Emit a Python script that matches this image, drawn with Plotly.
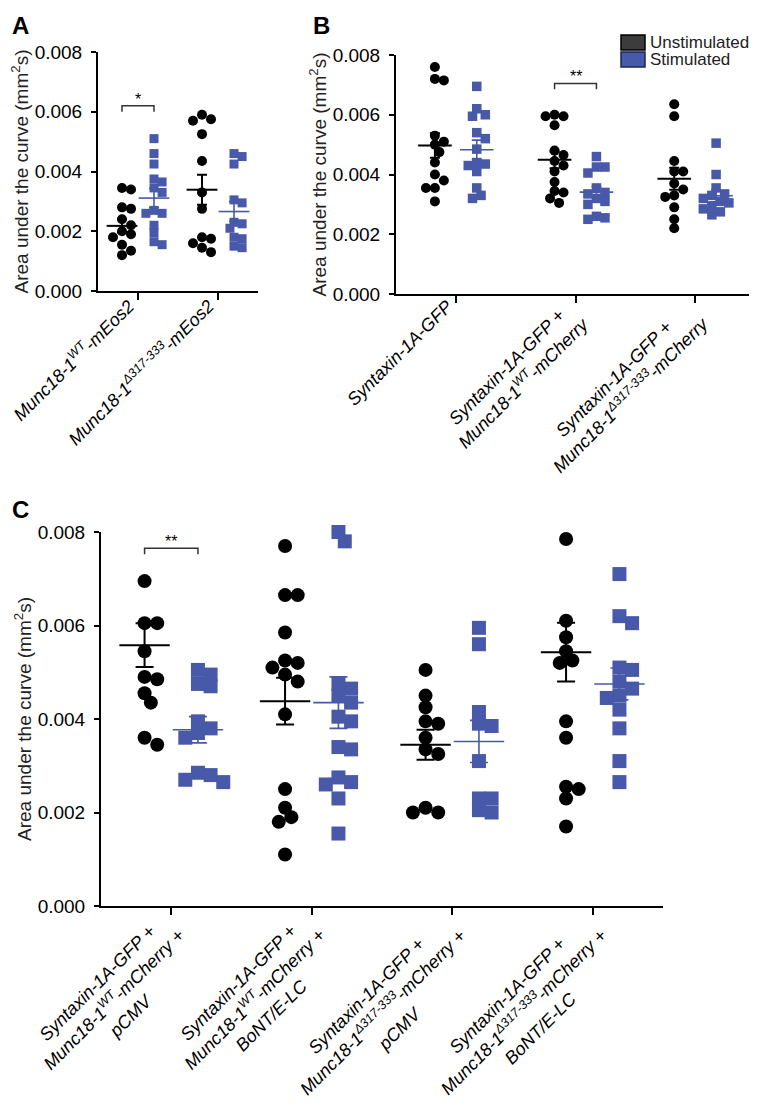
import numpy as np
import plotly.graph_objects as go

FONT = "Arial, 'Liberation Sans', sans-serif"
BLUE = "#4759a8"

# ---------------- data (area values in units of 0.001 mm^2 s) ----------------
a_labels = ["Munc18-1<sup>WT</sup>-mEos2",
            "Munc18-1<sup>Δ317-333</sup>-mEos2"]
a_unstim = [
    [3.45, 3.40, 2.80, 2.75, 2.40, 2.20, 2.00, 1.90, 1.80, 1.55, 1.35, 1.20],
    [5.90, 5.75, 5.70, 5.25, 4.35, 3.30, 2.75, 1.80, 1.75, 1.60, 1.45, 1.30],
]
a_stim = [
    [5.10, 4.60, 4.25, 3.75, 3.65, 3.45, 3.30, 2.70, 2.60, 2.60, 2.20, 1.95, 1.65, 1.55],
    [4.60, 4.50, 4.25, 3.05, 2.95, 2.30, 2.25, 2.10, 1.80, 1.75, 1.50, 1.45],
]
a_unstim_mean = [2.18, 3.39]
a_unstim_sem = [0.22, 0.50]
a_stim_mean = [3.11, 2.66]
a_stim_sem = [0.32, 0.33]

b_labels = ["Syntaxin-1A-GFP",
            "Syntaxin-1A-GFP +<br>Munc18-1<sup>WT</sup>-mCherry",
            "Syntaxin-1A-GFP +<br>Munc18-1<sup>Δ317-333</sup>-mCherry"]
b_unstim = [
    [7.60, 7.20, 7.15, 5.30, 5.10, 5.00, 4.75, 4.40, 4.00, 3.80, 3.55, 3.55, 3.10],
    [6.00, 5.95, 5.95, 5.65, 4.80, 4.65, 4.45, 4.30, 4.10, 3.75, 3.45, 3.40, 3.20, 3.05],
    [6.35, 5.95, 4.45, 4.10, 4.10, 3.70, 3.50, 3.30, 3.25, 2.90, 2.50, 2.20],
]
b_stim = [
    [6.95, 6.20, 6.00, 5.95, 5.40, 5.20, 4.85, 4.40, 4.35, 4.30, 4.10, 3.55, 3.30, 3.20],
    [4.60, 4.25, 4.25, 4.05, 3.55, 3.40, 3.35, 3.20, 3.10, 3.00, 2.60, 2.55, 2.50],
    [5.05, 4.00, 3.55, 3.35, 3.30, 3.20, 3.10, 3.05, 2.95, 2.85, 2.75, 2.65],
]
b_unstim_mean = [4.97, 4.49, 3.86]
b_unstim_sem = [0.41, 0.28, 0.37]
b_stim_mean = [4.83, 3.41, 3.29]
b_stim_sem = [0.32, 0.19, 0.20]

c_labels = ["Syntaxin-1A-GFP +<br>Munc18-1<sup>WT</sup>-mCherry +<br>pCMV",
            "Syntaxin-1A-GFP +<br>Munc18-1<sup>WT</sup>-mCherry +<br>BoNT/E-LC",
            "Syntaxin-1A-GFP +<br>Munc18-1<sup>Δ317-333</sup>-mCherry +<br>pCMV",
            "Syntaxin-1A-GFP +<br>Munc18-1<sup>Δ317-333</sup>-mCherry +<br>BoNT/E-LC"]
c_unstim = [
    [6.95, 6.05, 6.05, 5.45, 4.90, 4.85, 4.55, 4.35, 3.60, 3.45],
    [7.70, 6.65, 6.65, 5.85, 5.25, 5.20, 5.10, 4.95, 4.80, 4.10, 2.50, 2.10, 1.90, 1.80, 1.10],
    [5.05, 4.50, 4.25, 3.95, 3.90, 3.60, 3.35, 3.25, 2.10, 2.00, 2.00],
    [7.85, 6.10, 5.75, 5.45, 5.25, 5.20, 3.95, 3.60, 2.55, 2.50, 2.30, 1.70],
]
c_stim = [
    [5.05, 4.95, 4.75, 4.70, 3.95, 3.80, 3.70, 3.60, 2.85, 2.80, 2.70, 2.65],
    [8.00, 7.80, 4.75, 4.65, 4.50, 4.35, 4.05, 3.95, 3.40, 3.35, 2.75, 2.65, 2.60, 2.30, 1.55],
    [5.95, 5.60, 4.15, 3.90, 3.85, 3.10, 2.30, 2.30, 2.05, 2.00],
    [7.10, 6.20, 6.05, 5.10, 5.05, 4.80, 4.65, 4.50, 4.45, 4.20, 3.80, 3.10, 2.65],
]
c_unstim_mean = [5.58, 4.38, 3.45, 5.43]
c_unstim_sem = [0.47, 0.50, 0.32, 0.63]
c_stim_mean = [3.77, 4.35, 3.52, 4.75]
c_stim_sem = [0.28, 0.55, 0.45, 0.34]

y_ticks = [0, 0.002, 0.004, 0.006, 0.008]
# significance: (group index, bracket height, label)
a_sig = [(0, 6.2, "*")]
b_sig = [(1, 7.05, "**")]
c_sig = [(0, 7.65, "**")]

SCALE = 1e-3


def swarm(vals, ypx, xpx, d):
    """simple beeswarm, returns x offsets in category units"""
    y = np.asarray(vals) * ypx
    xs = np.zeros(len(y))
    done = []
    for i in np.argsort(-y):
        k = 0
        while True:
            step = (k + 1) // 2 * (1 if k % 2 else -1) * d * 0.45
            if all((step - xs[j]) ** 2 + (y[i] - y[j]) ** 2 >= (0.8 * d) ** 2 for j in done):
                break
            k += 1
        xs[i] = step
        done.append(i)
    return xs / xpx


panels = [
    dict(ax="", labels=a_labels, un=a_unstim, st=a_stim, um=a_unstim_mean, us=a_unstim_sem,
         sm=a_stim_mean, ss=a_stim_sem, sig=a_sig, ypx=29.9, xpx=80, off=0.2,
         dc=10, ds=9, mw=22, cap=5, dom_x=[90, 250], dom_y=[44, 283]),
    dict(ax="2", labels=b_labels, un=b_unstim, st=b_stim, um=b_unstim_mean, us=b_unstim_sem,
         sm=b_stim_mean, ss=b_stim_sem, sig=b_sig, ypx=29.9, xpx=120, off=0.175,
         dc=10, ds=9.5, mw=24, cap=5, dom_x=[388, 747], dom_y=[47, 286]),
    dict(ax="3", labels=c_labels, un=c_unstim, st=c_stim, um=c_unstim_mean, us=c_unstim_sem,
         sm=c_stim_mean, ss=c_stim_sem, sig=c_sig, ypx=46.75, xpx=140, off=0.19,
         dc=14, ds=14, mw=36, cap=9, dom_x=[93, 655], dom_y=[524, 898]),
]

W, H = 757, 1104
LAB_SIZE = 18
fig = go.Figure()
shapes, annos = [], []

for p in panels:
    xa, ya = "x" + p["ax"], "y" + p["ax"]
    for gi in range(len(p["labels"])):
        for vals, sign, col, sym, d in [(p["un"][gi], -1, "black", "circle", p["dc"]),
                                         (p["st"][gi], 1, BLUE, "square", p["ds"])]:
            xo = swarm(vals, p["ypx"], p["xpx"], d)
            fig.add_trace(go.Scatter(
                x=gi + sign * p["off"] + xo, y=np.asarray(vals) * SCALE, mode="markers",
                marker=dict(symbol=sym, size=d, color=col, line=dict(width=0)),
                xaxis=xa, yaxis=ya, showlegend=False, cliponaxis=False, hoverinfo="y"))
        for m, s, sign, col, th in [(p["um"][gi], p["us"][gi], -1, "black", 2),
                                     (p["sm"][gi], p["ss"][gi], 1, BLUE, 1.6)]:
            fig.add_trace(go.Scatter(
                x=[gi + sign * p["off"]], y=[m * SCALE], mode="markers",
                marker=dict(symbol="line-ew", size=p["mw"], color=col, line=dict(width=th, color=col)),
                error_y=dict(type="data", array=[s * SCALE], width=p["cap"], thickness=th, color=col),
                xaxis=xa, yaxis=ya, showlegend=False, cliponaxis=False))
    for gi, h, txt in p["sig"]:
        x0, x1 = gi - p["off"], gi + p["off"]
        y_top = h * SCALE
        y_bot = (h - 0.2 * 29.9 / p["ypx"]) * SCALE
        shapes.append(dict(type="path", xref=xa, yref=ya,
                           path=f"M {x0} {y_bot} L {x0} {y_top} L {x1} {y_top} L {x1} {y_bot}",
                           line=dict(color="#333333", width=1.5)))
        annos.append(dict(x=gi, y=y_top, xref=xa, yref=ya, text=txt, showarrow=False,
                          yanchor="bottom", yshift=-4, font=dict(size=16, color="black", family=FONT)))

    x0p, x1p = p["dom_x"][0] / W, p["dom_x"][1] / W
    y0p, y1p = 1 - p["dom_y"][1] / H, 1 - p["dom_y"][0] / H
    # rotated, centre-aligned category labels; the rotated box is anchored by its
    # top-right corner, so compensate for the number of lines
    for gi, lab in enumerate(p["labels"]):
        n_lines = lab.count("<br>") + 1
        annos.append(dict(x=gi, xref=xa, y=y0p, yref="paper", text=f"<i>{lab}</i>",
                          textangle=-45, showarrow=False, xanchor="right", yanchor="top",
                          align="center", xshift=-13 + 0.707 * 1.3 * LAB_SIZE * n_lines, yshift=0,
                          font=dict(size=LAB_SIZE, color="black", family=FONT)))
    fig.update_layout({
        "xaxis" + p["ax"]: dict(domain=[x0p, x1p], anchor=ya, range=[-0.5, len(p["labels"]) - 0.5],
                                tickvals=list(range(len(p["labels"]))), showticklabels=False,
                                ticks="outside", ticklen=7, tickwidth=2, tickcolor="black",
                                showline=True, linewidth=2, linecolor="black", showgrid=False, zeroline=False,
                                automargin=False),
        "yaxis" + p["ax"]: dict(domain=[y0p, y1p], anchor=xa, range=[0, 0.008], tickvals=y_ticks,
                                tickformat=".3f", ticks="outside", ticklen=5, tickwidth=2, tickcolor="black",
                                ticklabelstandoff=5,
                                showline=True, linewidth=2, linecolor="black", showgrid=False, zeroline=False,
                                automargin=False,
                                tickfont=dict(size=19, color="black", family=FONT),
                                title=dict(text="Area under the curve (mm<sup>2</sup>s)", standoff=1,
                                           font=dict(size=19, color="#222222", family=FONT))),
    })

# panel letters
for letter, lx, ly in [("A", 2, 2), ("B", 303, 2), ("C", 2, 486)]:
    annos.append(dict(x=lx / W, y=1 - ly / H, xref="paper", yref="paper", text=f"<b>{letter}</b>",
                      showarrow=False, xanchor="left", yanchor="top",
                      font=dict(size=24, color="black", family=FONT)))

# legend
for name, col, edge, y0 in [("Unstimulated", "#3c3c3c", "black", 27), ("Stimulated", BLUE, "#1c2550", 44)]:
    shapes.append(dict(type="rect", xref="paper", yref="paper", x0=613 / W, x1=637 / W,
                       y0=1 - (y0 + 15) / H, y1=1 - y0 / H, fillcolor=col, line=dict(color=edge, width=1.5)))
    annos.append(dict(x=640 / W, y=1 - (y0 + 7.5) / H, xref="paper", yref="paper", text=name,
                      showarrow=False, xanchor="left", yanchor="middle",
                      font=dict(size=17, color="#222222", family=FONT)))

fig.update_layout(template="none", width=W, height=H, margin=dict(l=0, r=0, t=0, b=0),
                  paper_bgcolor="white", plot_bgcolor="white",
                  font=dict(family=FONT, color="black"), shapes=shapes, annotations=annos,
                  showlegend=False)

fig.write_html("out.html")
